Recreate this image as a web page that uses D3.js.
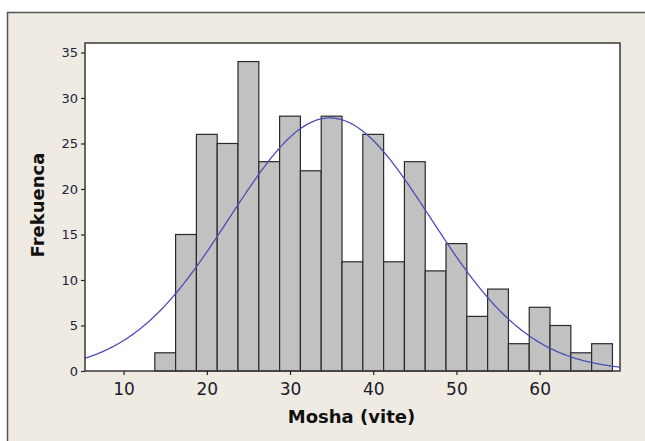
<html>
<head>
  <meta charset="utf-8" />
  <title>Mosha histogram</title>
  <script src="https://d3js.org/d3.v7.min.js"></script>
</head>
<style>
  body { margin: 0; background: #fff; }
  svg { display: block; }
  text { font-family: "DejaVu Sans", Verdana, sans-serif; }
</style>
<body>
<svg class="main" width="645" height="441"></svg>
<script>

// bins (midpoints, width 2.5) and frequencies
var binMids = [15, 17.5, 20, 22.5, 25, 27.5, 30, 32.5, 35, 37.5, 40,
               42.5, 45, 47.5, 50, 52.5, 55, 57.5, 60, 62.5, 65, 67.5]
var counts  = [2, 15, 26, 25, 34, 23, 28, 22, 28, 12, 26,
               12, 23, 11, 14, 6, 9, 3, 7, 5, 2, 3]
var binWidth = 2.5

var xTicks = [10, 20, 30, 40, 50, 60]
var yTicks = [0, 5, 10, 15, 20, 25, 30, 35]

// fitted normal curve
var fitMean = 34.8
var fitSd = 12.05

// note: "top" is a reserved window property, so use plot* names
var plotLeft = 85, plotRight = 620, plotTop = 43, plotBottom = 371

var svg = d3.select("svg.main")

// outer panel
svg.append("rect")
  .attr("x", 7.5).attr("y", 12.5)
  .attr("width", 660).attr("height", 460)
  .style("fill", "#efebe3")
  .style("stroke", "#555")
  .style("stroke-width", 1.5)

var x = d3.scaleLinear().domain([5.36, 69.66]).range([plotLeft, plotRight])
var y = d3.scaleLinear().domain([0, 36.04]).range([plotBottom, plotTop])

// plot area
svg.append("rect")
  .attr("x", plotLeft).attr("y", plotTop)
  .attr("width", plotRight - plotLeft).attr("height", plotBottom - plotTop)
  .style("fill", "#fff")

var clip = svg.append("clipPath").attr("id", "plotclip")
clip.append("rect")
  .attr("x", plotLeft).attr("y", plotTop)
  .attr("width", plotRight - plotLeft).attr("height", plotBottom - plotTop)

var bars = svg.append("g")
bars.selectAll("rect")
  .data(binMids)
  .enter()
  .append("rect")
  .attr("x", function (d) { return x(d - binWidth / 2) })
  .attr("width", function (d) { return x(d + binWidth / 2) - x(d - binWidth / 2) })
  .attr("y", function (d, i) { return y(counts[i]) })
  .attr("height", function (d, i) { return y(0) - y(counts[i]) })
  .style("fill", "#c1c1c1")
  .style("stroke", "#2a2a2a")
  .style("stroke-width", 1.2)

var n = d3.sum(counts)
var curvePts = d3.range(5.36, 69.8, 0.25).map(function (v) {
  var z = (v - fitMean) / fitSd
  return [v, n * binWidth / (fitSd * Math.sqrt(2 * Math.PI)) * Math.exp(-0.5 * z * z)]
})

svg.append("path")
  .datum(curvePts)
  .attr("clip-path", "url(#plotclip)")
  .attr("d", d3.line()
    .x(function (d) { return x(d[0]) })
    .y(function (d) { return y(d[1]) })
    .curve(d3.curveBasis))
  .style("fill", "none")
  .style("stroke", "#4a4fb3")
  .style("stroke-width", 1.3)

// plot frame
svg.append("rect")
  .attr("x", plotLeft).attr("y", plotTop)
  .attr("width", plotRight - plotLeft).attr("height", plotBottom - plotTop)
  .style("fill", "none")
  .style("stroke", "#3a3a3a")
  .style("stroke-width", 1.5)

var xAxis = svg.append("g")
  .attr("transform", "translate(0," + plotBottom + ")")
  .call(d3.axisBottom(x).tickValues(xTicks).tickSize(4).tickPadding(8).tickSizeOuter(0))
xAxis.select(".domain").remove()
xAxis.selectAll("line").style("stroke", "#222").style("stroke-width", 1.2)
xAxis.selectAll("text")
  .style("font-size", "17px")
  .style("font-family", "DejaVu Sans, sans-serif")
  .style("fill", "#1a1a2a")

var yAxis = svg.append("g")
  .attr("transform", "translate(" + plotLeft + ",0)")
  .call(d3.axisLeft(y).tickValues(yTicks).tickSize(4).tickPadding(3).tickSizeOuter(0))
yAxis.select(".domain").remove()
yAxis.selectAll("line").style("stroke", "#222").style("stroke-width", 1.2)
yAxis.selectAll("text")
  .style("font-size", "13px")
  .style("font-family", "DejaVu Sans, sans-serif")
  .style("fill", "#22223a")

svg.append("text")
  .attr("x", (plotLeft + plotRight) / 2 - 1)
  .attr("y", 423)
  .attr("text-anchor", "middle")
  .style("font-size", "18px")
  .style("font-weight", "bold")
  .style("fill", "#111")
  .text("Mosha (vite)")

svg.append("text")
  .attr("transform", "translate(44,205) rotate(-90)")
  .attr("text-anchor", "middle")
  .style("font-size", "18px")
  .style("font-weight", "bold")
  .style("fill", "#111")
  .text("Frekuenca")

</script>
</body>
</html>
